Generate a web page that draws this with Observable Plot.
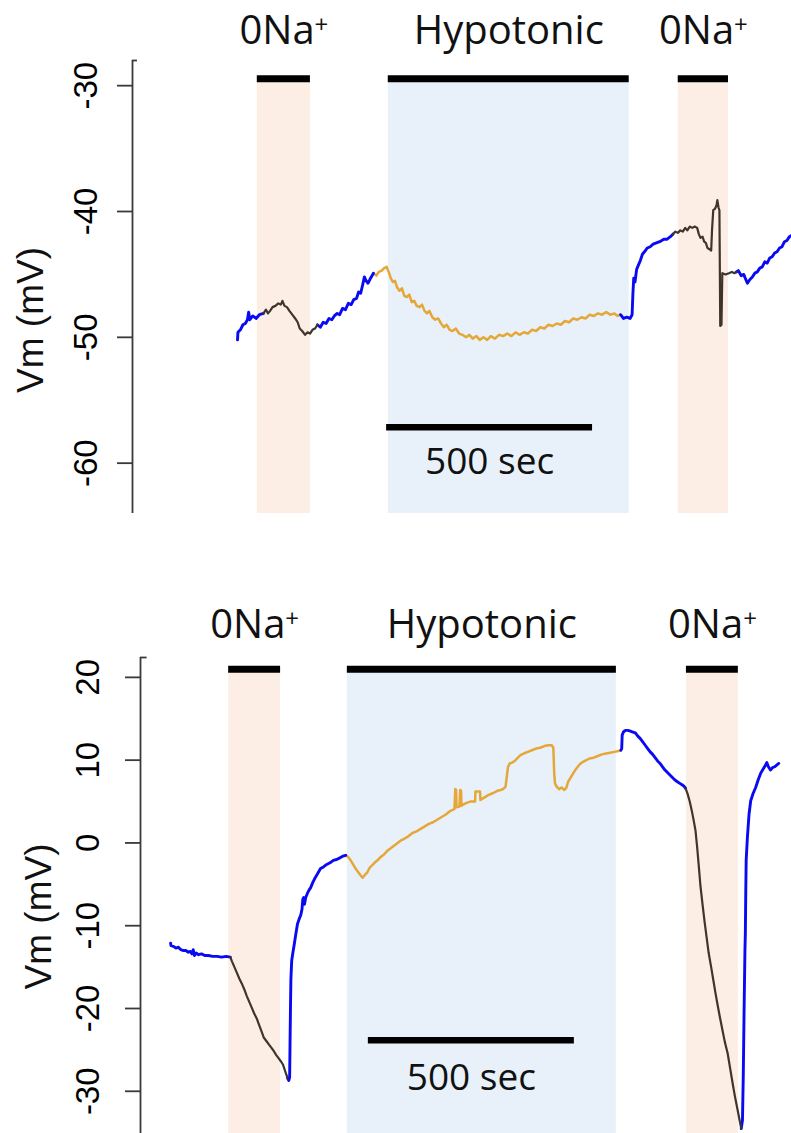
<!DOCTYPE html>
<html><head><meta charset="utf-8">
<script src="https://cdn.jsdelivr.net/npm/d3@7"></script>
<script src="https://cdn.jsdelivr.net/npm/@observablehq/plot@0.6"></script>
<style>
html,body{margin:0;padding:0;background:#fff;}
#chart svg{display:block;}
</style></head><body><div id="chart"></div>
<script>
// ===== Top panel: Vm traces (time s, Vm mV) =====
const topControl1 = [[255,-50.2],[256,-49.6],[262,-49.4],[268,-49.0],[274,-48.9],[279,-48.6],[282,-48.0],[285,-48.6],[292,-48.3],[300,-48.5],[308,-48.2],[318,-48.1]];
const topZeroNa1 = [[318,-48.1],[324,-47.8],[329,-48.1],[334,-47.9],[340,-47.6],[347,-47.5],[354,-47.3],[360,-47.4],[364,-47.1],[369,-47.5],[375,-47.6],[381,-47.9],[388,-48.2],[395,-48.5],[401,-48.8],[406,-49.3],[412,-49.5],[419,-49.8],[425,-49.6],[431,-49.7],[437,-49.4],[443,-49.3],[449,-49.0]];
const topControl2 = [[449,-49.0],[456,-49.2],[463,-48.8],[470,-48.9],[477,-48.5],[484,-48.6],[490,-48.3],[497,-48.1],[503,-48.2],[510,-47.7],[517,-47.8],[524,-47.3],[531,-47.4],[537,-47.0],[544,-46.9],[549,-46.4],[554,-46.5],[559,-45.8],[563,-45.2],[567,-45.5],[572,-45.7],[578,-45.3],[585,-44.9]];
const topHypo = [[585,-44.9],[592,-45.1],[598,-44.8],[605,-44.7],[611,-44.5],[617,-44.4],[622,-44.8],[627,-45.3],[632,-45.6],[637,-45.5],[642,-46.0],[648,-46.3],[654,-46.1],[660,-46.7],[666,-46.8],[672,-46.6],[678,-47.2],[684,-47.1],[690,-47.5],[697,-47.6],[703,-47.4],[709,-47.9],[715,-48.1],[721,-47.9],[728,-48.4],[735,-48.6],[742,-48.5],[749,-48.9],[756,-49.2],[763,-49.0],[770,-49.4],[777,-49.5],[785,-49.3],[793,-49.7],[801,-49.8],[810,-50.0],[818,-49.8],[826,-50.1],[835,-49.9],[843,-50.2],[852,-50.0],[861,-50.2],[870,-49.9],[880,-50.1],[890,-49.8],[900,-49.9],[910,-49.7],[920,-49.9],[930,-49.6],[940,-49.8],[950,-49.6],[960,-49.7],[970,-49.4],[980,-49.5],[990,-49.2],[1000,-49.3],[1010,-49.0],[1020,-49.1],[1030,-48.9],[1040,-49.0],[1050,-48.7],[1060,-48.8],[1070,-48.5],[1080,-48.6],[1090,-48.4],[1100,-48.5],[1110,-48.2],[1120,-48.3],[1130,-48.1],[1140,-48.2],[1150,-48.0],[1160,-48.2],[1170,-48.1],[1178,-48.3],[1185,-48.2]];
const topControl3 = [[1185,-48.2],[1192,-48.5],[1200,-48.4],[1208,-48.5],[1213,-48.2],[1215,-46.5],[1217,-45.3],[1220,-45.6],[1224,-44.6],[1229,-44.2],[1233,-43.9],[1238,-43.4],[1243,-43.2],[1250,-42.9],[1257,-42.8],[1264,-42.6],[1272,-42.5],[1280,-42.4],[1290,-42.2],[1298,-42.2],[1306,-42.0],[1312,-41.8]];
const topZeroNa2 = [[1312,-41.8],[1318,-41.6],[1324,-41.7],[1330,-41.5],[1336,-41.6],[1342,-41.3],[1347,-41.5],[1353,-41.2],[1359,-41.3],[1365,-41.2],[1371,-41.3],[1375,-41.8],[1379,-42.1],[1384,-42.0],[1388,-42.4],[1392,-42.5],[1396,-42.9],[1401,-43.0],[1405,-43.1],[1407,-41.5],[1410,-39.9],[1414,-39.8],[1418,-39.5],[1420,-39.1],[1423,-39.7],[1425,-39.9],[1427,-49.1],[1430,-49.0],[1432,-44.9],[1440,-45.0],[1448,-44.9],[1455,-44.8],[1462,-44.9],[1466,-44.8]];
const topControl4 = [[1466,-44.8],[1471,-44.7],[1478,-45.1],[1484,-45.0],[1489,-45.4],[1493,-45.7],[1499,-45.4],[1505,-45.2],[1511,-44.9],[1517,-44.8],[1523,-44.5],[1529,-44.4],[1535,-44.0],[1541,-44.1],[1547,-43.7],[1553,-43.6],[1559,-43.3],[1565,-43.2],[1571,-42.9],[1577,-42.8],[1583,-42.4],[1589,-42.3],[1595,-42.0],[1600,-41.9]];

const topPeriodLabels = ["0Na+", "Hypotonic", "0Na+"];
const topPeriodKinds = ["zeroNa", "hypo", "zeroNa"];
const topPeriodStart = [303, 621, 1325];
const topPeriodEnd = [432, 1206, 1447];
const topYTicks = [-30, -40, -50, -60];

// ===== Bottom panel =====
const bottomControl1 = [[73,-12.1],[74,-12.4],[80,-12.5],[86,-12.7],[92,-12.6],[98,-12.9],[104,-13.0],[110,-13.0],[116,-13.2],[121,-13.1],[125,-13.4],[128,-12.9],[131,-13.6],[135,-13.3],[141,-13.5],[148,-13.4],[156,-13.6],[165,-13.6],[175,-13.7],[186,-13.7],[197,-13.8],[208,-13.7],[218,-13.8]];
const bottomZeroNa1 = [[218,-13.8],[222,-14.3],[228,-15.0],[234,-15.7],[240,-16.4],[246,-17.0],[252,-17.7],[258,-18.5],[264,-19.2],[270,-19.9],[276,-20.6],[282,-21.2],[288,-22.0],[294,-22.8],[299,-23.5],[305,-23.9],[311,-24.3],[317,-24.7],[323,-25.1],[329,-25.6],[335,-26.0],[341,-26.4],[346,-26.8],[350,-27.4],[354,-28.0],[357,-28.4]];
const bottomControl2 = [[357,-28.4],[360,-28.7],[362,-28.3],[363,-24.0],[364,-20.0],[365,-16.5],[367,-14.2],[370,-13.2],[373,-12.3],[377,-11.0],[381,-9.8],[385,-9.2],[389,-8.7],[392,-8.0],[394,-6.8],[396,-6.6],[398,-7.4],[401,-6.6],[405,-6.1],[409,-5.7],[413,-5.4],[418,-4.8],[424,-4.2],[430,-3.7],[437,-3.1],[444,-2.9],[452,-2.6],[460,-2.4],[468,-2.1],[476,-2.0],[484,-1.8],[491,-1.6],[498,-1.5]];
const bottomHypo = [[498,-1.5],[504,-1.7],[510,-2.1],[516,-2.6],[522,-3.1],[528,-3.5],[534,-3.9],[539,-4.2],[544,-3.9],[550,-3.6],[556,-3.0],[562,-2.7],[568,-2.4],[575,-2.1],[583,-1.7],[591,-1.4],[600,-0.9],[608,-0.6],[616,-0.3],[624,0.0],[632,0.3],[640,0.5],[650,0.8],[660,1.2],[670,1.4],[680,1.7],[690,2.0],[700,2.3],[710,2.5],[720,2.8],[730,3.1],[740,3.4],[750,3.8],[762,4.1],[764,6.5],[766,6.4],[767,4.3],[774,4.4],[776,6.4],[778,6.3],[779,4.5],[790,4.8],[800,5.0],[812,5.0],[813,6.2],[824,6.2],[825,5.2],[835,5.5],[845,5.8],[855,6.0],[866,6.3],[874,6.4],[880,6.5],[886,6.8],[889,8.0],[892,9.2],[896,9.6],[902,9.7],[910,10.0],[916,10.3],[922,10.6],[930,10.8],[940,11.0],[950,11.2],[960,11.4],[970,11.5],[980,11.7],[990,11.8],[998,11.8],[1002,11.5],[1004,8.5],[1006,7.2],[1010,6.8],[1016,6.5],[1022,6.7],[1028,6.4],[1033,6.6],[1038,7.4],[1044,7.9],[1050,8.4],[1058,9.0],[1066,9.5],[1074,9.8],[1082,10.0],[1090,10.2],[1100,10.3],[1110,10.5],[1120,10.7],[1130,10.8],[1140,10.9],[1150,11.0],[1160,11.1],[1166,11.2]];
const bottomControl3 = [[1166,11.2],[1168,11.4],[1169,13.0],[1172,13.4],[1177,13.6],[1183,13.6],[1189,13.5],[1195,13.4],[1201,13.3],[1207,12.9],[1213,12.6],[1219,12.2],[1225,11.8],[1231,11.4],[1237,11.0],[1243,10.7],[1249,10.3],[1255,9.9],[1261,9.6],[1267,9.2],[1273,8.8],[1279,8.5],[1285,8.2],[1291,7.9],[1297,7.6],[1303,7.4],[1309,7.2],[1315,7.0],[1320,6.8],[1323,6.6]];
const bottomZeroNa2 = [[1323,6.6],[1328,5.9],[1333,5.0],[1338,3.9],[1343,2.6],[1347,1.5],[1351,-0.5],[1355,-2.8],[1359,-5.2],[1364,-7.4],[1369,-9.5],[1374,-11.4],[1379,-13.3],[1385,-15.0],[1390,-16.5],[1395,-18.0],[1400,-19.4],[1406,-21.0],[1412,-22.5],[1418,-24.0],[1425,-25.4],[1431,-27.2],[1437,-29.0],[1443,-30.7],[1449,-32.2],[1454,-33.5],[1458,-34.5]];
const bottomControl4 = [[1458,-34.5],[1461,-33.5],[1463,-28.0],[1465,-20.0],[1467,-13.0],[1468,-10.9],[1469,-6.0],[1470,-2.1],[1473,0.7],[1477,3.5],[1481,5.1],[1487,6.0],[1493,6.7],[1499,7.6],[1505,8.4],[1512,9.0],[1517,9.4],[1520,9.7],[1524,9.2],[1529,8.8],[1534,9.1],[1539,9.2],[1544,9.4],[1549,9.6]];

const bottomPeriodLabels = ["0Na+", "Hypotonic", "0Na+"];
const bottomPeriodKinds = ["zeroNa", "hypo", "zeroNa"];
const bottomPeriodStart = [214, 502, 1325];
const bottomPeriodEnd = [340, 1155, 1451];
const bottomYTicks = [20, 10, 0, -10, -20, -30];

// ===== Styles =====
const traceColor = {control: "#0a0af2", zeroNa: "#3f352d", hypo: "#e4a738"};
const traceWidth = {control: 2.9, zeroNa: 2.2, hypo: 2.5};
const periodFill = {zeroNa: "#fdeee5", hypo: "#e8f1fa"};
const axisColor = "#3a3a3a";
const tickFont = "'Liberation Sans', Arial, sans-serif";
const labelFont = "'Open Sans', sans-serif";

function buildRows(segs) {
  return segs.flatMap(([phase, pts], i) => pts.map(([t, v]) => ({phase, seg: i, t, v})));
}
function buildPeriods(labels, kinds, starts, ends) {
  return labels.map((label, i) => ({label, kind: kinds[i], start: starts[i], end: ends[i]}));
}

function panel(cfg) {
  const rows = buildRows(cfg.segments);
  const periods = cfg.periods;
  const lines = ["hypo", "control", "zeroNa"].map(ph =>
    Plot.line(rows.filter(d => d.phase === ph), {x: "t", y: "v", z: "seg", stroke: traceColor[ph], strokeWidth: traceWidth[ph], strokeLinejoin: "round"}));
  const svg = Plot.plot({
    width: 791, height: cfg.height,
    marginLeft: cfg.marginLeft, marginRight: 0, marginTop: cfg.marginTop, marginBottom: cfg.marginBottom,
    x: {domain: [0, cfg.xMax], axis: null},
    y: {domain: cfg.yDomain, axis: null},
    style: {background: "white", overflow: "visible"},
    marks: [
      Plot.rect(periods, {x1: "start", x2: "end", y1: cfg.yDomain[0], y2: cfg.barLevel, fill: d => periodFill[d.kind]}),
      Plot.ruleY(periods, {y: cfg.barLevel, x1: "start", x2: "end", stroke: "#000", strokeWidth: 7}),
      Plot.text(periods, {x: d => (d.start + d.end) / 2, y: cfg.barLevel, text: "label", dy: cfg.labelDy, lineAnchor: "bottom", fontSize: 40, fontFamily: labelFont, fill: "#111"}),
      ...lines,
      Plot.ruleY([cfg.scaleBar], {y: "level", x1: "start", x2: "end", stroke: "#000", strokeWidth: 6.5}),
      Plot.text([cfg.scaleBar], {x: d => (d.start + d.end) / 2, y: "level", text: d => `${d.end - d.start} sec`, dy: cfg.scaleDy, lineAnchor: "bottom", fontSize: 37, fontFamily: labelFont, fill: "#111"}),
      Plot.ruleX([0], {y1: cfg.yDomain[0], y2: cfg.yDomain[1], stroke: axisColor, strokeWidth: 1.8}),
      Plot.axisY(cfg.yTicks, {anchor: "left", tickSize: 15, tickPadding: cfg.tickPadding, tickRotate: -90, tickFormat: d => String(d), fontSize: 33, fontFamily: tickFont, stroke: axisColor, strokeWidth: 1.8, label: null}),
      Plot.ruleY([cfg.yDomain[1]], {x1: 0, x2: cfg.cornerLen, stroke: axisColor, strokeWidth: 1.8}),
      Plot.text(["Vm (mV)"], {text: d => d, frameAnchor: "left", textAnchor: "middle", rotate: -90, dx: cfg.vmDx, dy: cfg.vmDy, lineAnchor: "bottom", fontSize: 37, fontFamily: tickFont, fill: "#111"})
    ],
    color: {type: "identity"}
  });
  d3.select(svg).selectAll("text").each(function() {
    const s = this.textContent;
    if (s === "0Na+") {
      const el = d3.select(this);
      el.text(null);
      el.append("tspan").text("0Na");
      el.append("tspan").attr("font-size", "24").attr("dy", "-11").text("+");
    }
  });
  return svg;
}

const topSvg = panel({
  segments: [["control", topControl1], ["zeroNa", topZeroNa1], ["control", topControl2], ["hypo", topHypo], ["control", topControl3], ["zeroNa", topZeroNa2], ["control", topControl4]],
  periods: buildPeriods(topPeriodLabels, topPeriodKinds, topPeriodStart, topPeriodEnd),
  height: 560, marginLeft: 132, marginTop: 60, marginBottom: 47,
  xMax: 1600, yDomain: [-64, -28], yTicks: topYTicks,
  barLevel: -29.45, labelDy: -35,
  scaleBar: {start: 617, end: 1117, level: -57.15}, scaleDy: 47,
  tickPadding: 21, cornerLen: 12, vmDx: -90, vmDy: 33
});
const bottomSvg = panel({
  segments: [["control", bottomControl1], ["zeroNa", bottomZeroNa1], ["control", bottomControl2], ["hypo", bottomHypo], ["control", bottomControl3], ["zeroNa", bottomZeroNa2], ["control", bottomControl4]],
  periods: buildPeriods(bottomPeriodLabels, bottomPeriodKinds, bottomPeriodStart, bottomPeriodEnd),
  height: 573, marginLeft: 140, marginTop: 97, marginBottom: 0,
  xMax: 1580, yDomain: [-35.1, 22.4], yTicks: bottomYTicks,
  barLevel: 20.97, labelDy: -31,
  scaleBar: {start: 553, end: 1053, level: -23.84}, scaleDy: 50,
  tickPadding: 27, cornerLen: 16, vmDx: -90, vmDy: 21
});
document.getElementById("chart").append(topSvg, bottomSvg);
</script>
</body></html>
